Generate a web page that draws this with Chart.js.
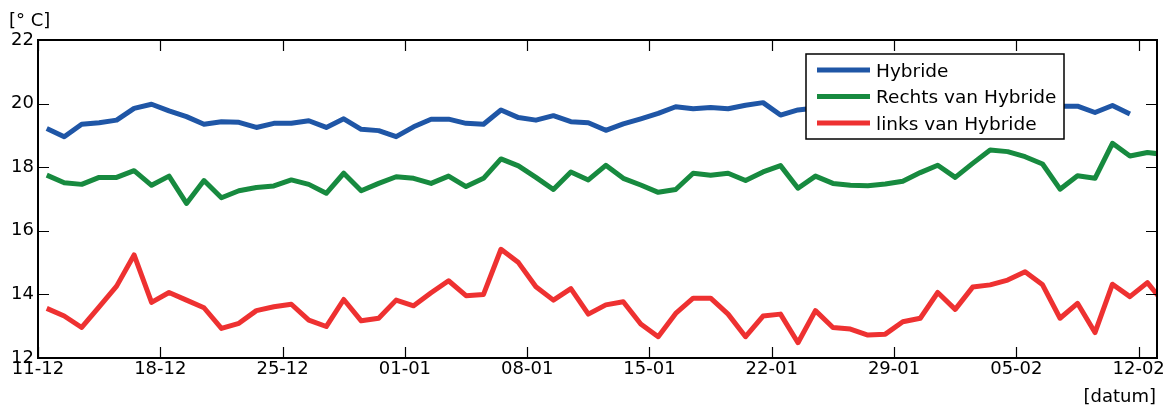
<!DOCTYPE html>
<html>
<head>
<meta charset="utf-8">
<title>Temperatuur Hybride</title>
<script src="https://cdn.jsdelivr.net/npm/chart.js@4/dist/chart.umd.min.js"></script>
<style>
    body { margin: 0; background: #fff; }
    #wrap { width: 1171px; height: 408px; position: relative; }
</style>
</head>
<body>
<div id="wrap"><canvas id="myChart"></canvas></div>
<script>
// daily values, first one is 11-12 (measured around midday)
let hybride = [19.22, 18.96, 19.35, 19.40, 19.48, 19.85, 19.98, 19.77, 19.59, 19.35,
    19.43, 19.41, 19.25, 19.38, 19.38, 19.46, 19.25, 19.52, 19.19, 19.15,
    18.96, 19.27, 19.51, 19.51, 19.38, 19.35, 19.80, 19.56, 19.48, 19.62,
    19.43, 19.40, 19.16, 19.36, 19.52, 19.69, 19.90, 19.84, 19.88, 19.84,
    19.95, 20.03, 19.64, 19.80, 19.86, 19.90, 19.88, 19.92, 19.95, 19.90,
    19.93, 19.97, 19.90, 19.95, 19.98, 19.93, 19.90, 19.94, 19.92, 19.92,
    19.72, 19.94, 19.67];
let rechts = [17.75, 17.51, 17.46, 17.68, 17.68, 17.89, 17.43, 17.72, 16.86, 17.58,
    17.04, 17.26, 17.36, 17.41, 17.60, 17.46, 17.18, 17.81, 17.26, 17.49,
    17.70, 17.65, 17.49, 17.72, 17.39, 17.65, 18.26, 18.04, 17.68, 17.30,
    17.85, 17.60, 18.06, 17.65, 17.44, 17.21, 17.30, 17.81, 17.75, 17.81,
    17.58, 17.85, 18.05, 17.34, 17.72, 17.49, 17.43, 17.42, 17.47, 17.56,
    17.83, 18.06, 17.68, 18.12, 18.54, 18.49, 18.33, 18.10, 17.31, 17.73,
    17.65, 18.75, 18.35, 18.46, 18.40];
let links = [13.56, 13.32, 12.96, 13.61, 14.26, 15.24, 13.75, 14.06, 13.82, 13.58,
    12.93, 13.09, 13.49, 13.61, 13.69, 13.19, 12.99, 13.84, 13.17, 13.25,
    13.82, 13.64, 14.05, 14.43, 13.96, 14.00, 15.42, 15.00, 14.24, 13.82,
    14.18, 13.38, 13.67, 13.77, 13.07, 12.67, 13.40, 13.88, 13.88, 13.38,
    12.67, 13.32, 13.38, 12.48, 13.49, 12.96, 12.91, 12.72, 12.75, 13.14,
    13.25, 14.06, 13.53, 14.23, 14.30, 14.45, 14.71, 14.30, 13.25, 13.72,
    12.80, 14.32, 13.93, 14.37, 13.70];

let tickLabels = ['11-12', '18-12', '25-12', '01-01', '08-01', '15-01', '22-01', '29-01', '05-02', '12-02'];
let yTicks = [12, 14, 16, 18, 20, 22];

let seriesNames = ['Hybride', 'Rechts van Hybride', 'links van Hybride'];
let colors = ['#1f56a6', '#178a3f', '#ee3131'];

const FONT = '"DejaVu Sans", Verdana, sans-serif';

function toPoints(values) {
    return values.map((v, i) => ({ x: i + 0.5, y: v }));
}

// box around the plot with the tick marks pointing inwards
const frame = {
    id: 'frame',
    afterDatasetsDraw(chart) {
        const ctx = chart.ctx;
        const a = chart.chartArea;
        const xs = chart.scales.x, ys = chart.scales.y;
        ctx.save();
        ctx.strokeStyle = '#000';
        ctx.lineWidth = 1.2;
        ctx.beginPath();
        xs.ticks.forEach(t => {
            let px = Math.round(xs.getPixelForValue(t.value)) + 0.5;
            ctx.moveTo(px, a.bottom); ctx.lineTo(px, a.bottom - 11);
            ctx.moveTo(px, a.top); ctx.lineTo(px, a.top + 11);
        });
        ys.ticks.forEach(t => {
            let py = Math.round(ys.getPixelForValue(t.value)) + 0.5;
            ctx.moveTo(a.left, py); ctx.lineTo(a.left + 11, py);
            ctx.moveTo(a.right, py); ctx.lineTo(a.right - 11, py);
        });
        ctx.stroke();
        ctx.lineWidth = 2;
        ctx.strokeRect(a.left, a.top, a.right - a.left, a.bottom - a.top);

        // axis units
        ctx.fillStyle = '#000';
        ctx.font = '18px ' + FONT;
        ctx.textBaseline = 'middle';
        ctx.textAlign = 'left';
        ctx.fillText('[\u00b0 C]', 9, 21);
        ctx.textAlign = 'right';
        ctx.fillText('[datum]', a.right - 1, 397);
        ctx.restore();
    }
};

// legend with a white box on top of the lines
const boxLegend = {
    id: 'boxLegend',
    afterDatasetsDraw(chart) {
        const ctx = chart.ctx;
        const a = chart.chartArea;
        let left = a.right - 351, top = a.top + 14;
        ctx.save();
        ctx.fillStyle = '#fff';
        ctx.fillRect(left, top, 258, 85);
        ctx.strokeStyle = '#000';
        ctx.lineWidth = 1.5;
        ctx.strokeRect(left, top, 258, 85);
        ctx.font = '18.5px ' + FONT;
        ctx.textBaseline = 'middle';
        ctx.textAlign = 'left';
        seriesNames.forEach((name, i) => {
            let y = top + 16 + i * 26.5;
            ctx.strokeStyle = colors[i];
            ctx.lineWidth = 5;
            ctx.beginPath();
            ctx.moveTo(left + 11, y);
            ctx.lineTo(left + 64, y);
            ctx.stroke();
            ctx.fillStyle = '#000';
            ctx.fillText(name, left + 70, y + 2);
        });
        ctx.restore();
    }
};

let ctx = document.getElementById('myChart');

let datasets = [hybride, rechts, links].map((vals, i) => ({
    label: seriesNames[i],
    data: toPoints(vals),
    borderColor: colors[i],
    backgroundColor: colors[i],
    borderWidth: 5,
    pointRadius: 0,
    fill: false,
    tension: 0,
    clip: 0,
    borderJoinStyle: 'round'
}));

let myLineChart = new Chart(ctx, {
    type: 'line',
    data: { datasets: datasets },
    options: {
        responsive: true,
        maintainAspectRatio: false,
        animation: false,
        layout: { padding: { top: 40, right: 14, left: 0, bottom: 0 } },
        plugins: {
            legend: { display: false },
            tooltip: { enabled: false }
        },
        scales: {
            x: {
                type: 'linear',
                min: 0,
                max: 64.05,
                afterBuildTicks: axis => {
                    axis.ticks = tickLabels.map((l, i) => ({ value: i * 7 }));
                },
                afterFit: axis => { axis.height = 50; },
                grid: { display: false, drawTicks: false },
                border: { display: false },
                ticks: {
                    autoSkip: false,
                    maxRotation: 0,
                    padding: 1,
                    color: '#000',
                    font: { family: FONT, size: 18 },
                    callback: (v) => tickLabels[Math.round(v / 7)]
                }
            },
            y: {
                min: 12,
                max: 22,
                afterBuildTicks: axis => {
                    axis.ticks = yTicks.map(v => ({ value: v }));
                },
                afterFit: axis => { axis.width = 38; },
                grid: { display: false, drawTicks: false },
                border: { display: false },
                ticks: {
                    padding: 4,
                    color: '#000',
                    font: { family: FONT, size: 18 }
                }
            }
        }
    },
    plugins: [frame, boxLegend]
});
</script>
</body>
</html>
